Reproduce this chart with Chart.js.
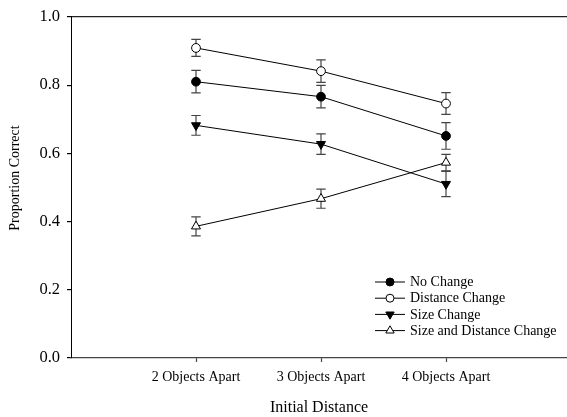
<!DOCTYPE html>
<html>
<head>
<meta charset="utf-8">
<script src="https://cdn.jsdelivr.net/npm/chart.js@4/dist/chart.umd.min.js"></script>
<style>
html,body{margin:0;padding:0;background:#fff;}
#wrap{width:567px;height:417px;position:relative;}
</style>
</head>
<body>
<div id="wrap"><canvas id="c" width="567" height="417"></canvas></div>
<script>
const categories = ["2 Objects Apart", "3 Objects Apart", "4 Objects Apart"];
const yTicks = [0.0, 0.2, 0.4, 0.6, 0.8, 1.0];

const noChange = [0.810, 0.766, 0.651];
const noChangeErr = [0.033, 0.033, 0.039];
const distanceChange = [0.909, 0.841, 0.746];
const distanceChangeErr = [0.025, 0.033, 0.032];
const sizeChange = [0.682, 0.627, 0.510];
const sizeChangeErr = [0.029, 0.030, 0.037];
const sizeDistanceChange = [0.386, 0.467, 0.573];
const sizeDistanceChangeErr = [0.028, 0.028, 0.024];

const seriesNames = ["No Change", "Distance Change", "Size Change", "Size and Distance Change"];
const yTitle = "Proportion Correct";
const xTitle = "Initial Distance";

const FONT = '"Liberation Serif", "Times New Roman", serif';

function pts(vals){ return vals.map((v,i)=>({x:i+1, y:v})); }

const styles = [
  {pointStyle:'circle', rotation:0, fill:'#000'},
  {pointStyle:'circle', rotation:0, fill:'#fff'},
  {pointStyle:'triangle', rotation:180, fill:'#000'},
  {pointStyle:'triangle', rotation:0, fill:'#fff'}
];
const values = [noChange, distanceChange, sizeChange, sizeDistanceChange];
const errors = [noChangeErr, distanceChangeErr, sizeChangeErr, sizeDistanceChangeErr];

const datasets = values.map((v,k)=>({
  label: seriesNames[k],
  data: pts(v),
  errors: errors[k],
  borderColor:'#000',
  borderWidth:1,
  backgroundColor: styles[k].fill,
  pointStyle: styles[k].pointStyle,
  rotation: styles[k].rotation,
  pointRadius: styles[k].pointStyle==='circle' ? 4.4 : 5.2,
  pointBorderColor:'#000',
  pointBorderWidth:1,
  pointBackgroundColor: styles[k].fill,
  tension:0,
  fill:false
}));

function drawMarker(ctx, style, x, y, r, fill){
  ctx.save();
  ctx.beginPath();
  if (style.pointStyle === 'circle'){
    ctx.arc(x, y, r, 0, Math.PI*2);
  } else {
    let rad = style.rotation * Math.PI/180;
    for (let i=0;i<3;i++){
      const px = x + Math.sin(rad)*r, py = y - Math.cos(rad)*r;
      if (i===0) ctx.moveTo(px,py); else ctx.lineTo(px,py);
      rad += 2*Math.PI/3;
    }
    ctx.closePath();
  }
  ctx.fillStyle = fill; ctx.fill();
  ctx.strokeStyle = '#000'; ctx.lineWidth = 1; ctx.stroke();
  ctx.restore();
}

const errorBars = {
  id:'errorBars',
  beforeDatasetsDraw(chart){
    const {ctx, scales:{x, y}} = chart;
    ctx.save();
    ctx.strokeStyle = '#444';
    ctx.lineWidth = 1.2;
    chart.data.datasets.forEach(ds=>{
      ds.data.forEach((p,i)=>{
        const e = ds.errors[i];
        const px = x.getPixelForValue(p.x);
        const top = y.getPixelForValue(p.y + e);
        const bot = y.getPixelForValue(p.y - e);
        const cw = 4.7;
        ctx.beginPath();
        ctx.moveTo(px, top); ctx.lineTo(px, bot);
        ctx.moveTo(px-cw, top); ctx.lineTo(px+cw, top);
        ctx.moveTo(px-cw, bot); ctx.lineTo(px+cw, bot);
        ctx.stroke();
      });
    });
    ctx.restore();
  }
};

const customLegend = {
  id:'customLegend',
  afterDraw(chart){
    const ctx = chart.ctx;
    ctx.save();
    ctx.font = '14px ' + FONT;
    ctx.textBaseline = 'middle';
    ctx.fillStyle = '#000';
    chart.data.datasets.forEach((ds,k)=>{
      const yy = 282 + k*16.2;
      ctx.beginPath();
      ctx.strokeStyle = '#000'; ctx.lineWidth = 1;
      ctx.moveTo(375, yy); ctx.lineTo(405, yy); ctx.stroke();
      drawMarker(ctx, styles[k], 390, yy, styles[k].pointStyle==='circle'?4:4.8, styles[k].fill);
      ctx.fillStyle = '#000';
      ctx.fillText(ds.label, 410, yy+0.5);
    });
    // y axis title
    ctx.save();
    ctx.translate(15, 178);
    ctx.rotate(-Math.PI/2);
    ctx.font = '14px ' + FONT;
    ctx.textAlign = 'center';
    ctx.textBaseline = 'middle';
    ctx.fillText(yTitle, 0, 0);
    ctx.restore();
    ctx.restore();
  }
};

new Chart(document.getElementById('c'), {
  type:'line',
  data:{datasets},
  plugins:[errorBars, customLegend],
  options:{
    responsive:false,
    animation:false,
    layout:{autoPadding:false, padding:{top:14, right:0, left:0, bottom:0}},
    plugins:{legend:{display:false}, tooltip:{enabled:false}},
    scales:{
      x:{
        type:'linear',
        min:0, max:3.968,
        afterBuildTicks(s){ s.ticks = [1,2,3].map(v=>({value:v})); },
        afterFit(s){ s.height = 59; },
        ticks:{
          callback:(v)=>categories[v-1] || '',
          font:{family:FONT, size:14},
          color:'#000',
          padding:7,
          maxRotation:0, autoSkip:false
        },
        grid:{drawOnChartArea:false, drawTicks:true, tickLength:4, tickColor:'#444', tickWidth:1.2},
        border:{color:'#444', width:1.2},
        title:{display:true, text:xTitle, font:{family:FONT, size:16}, color:'#000', padding:{top:0,bottom:0}}
      },
      y:{
        type:'linear',
        min:0, max:1,
        afterBuildTicks(s){ s.ticks = yTicks.map(v=>({value:v})); },
        afterFit(s){ s.width = 71; },
        ticks:{
          callback:(v)=>v.toFixed(1),
          font:{family:FONT, size:16.5},
          color:'#000',
          padding:7
        },
        grid:{
          drawOnChartArea:true, drawTicks:true, tickLength:4, tickColor:'#000',
          color:(c)=> (c.tick && c.tick.value===1) ? '#222' : 'rgba(0,0,0,0)',
          lineWidth:1.2
        },
        border:{color:'#000', width:1},
        title:{display:false}
      }
    }
  }
});
</script>
</body>
</html>
